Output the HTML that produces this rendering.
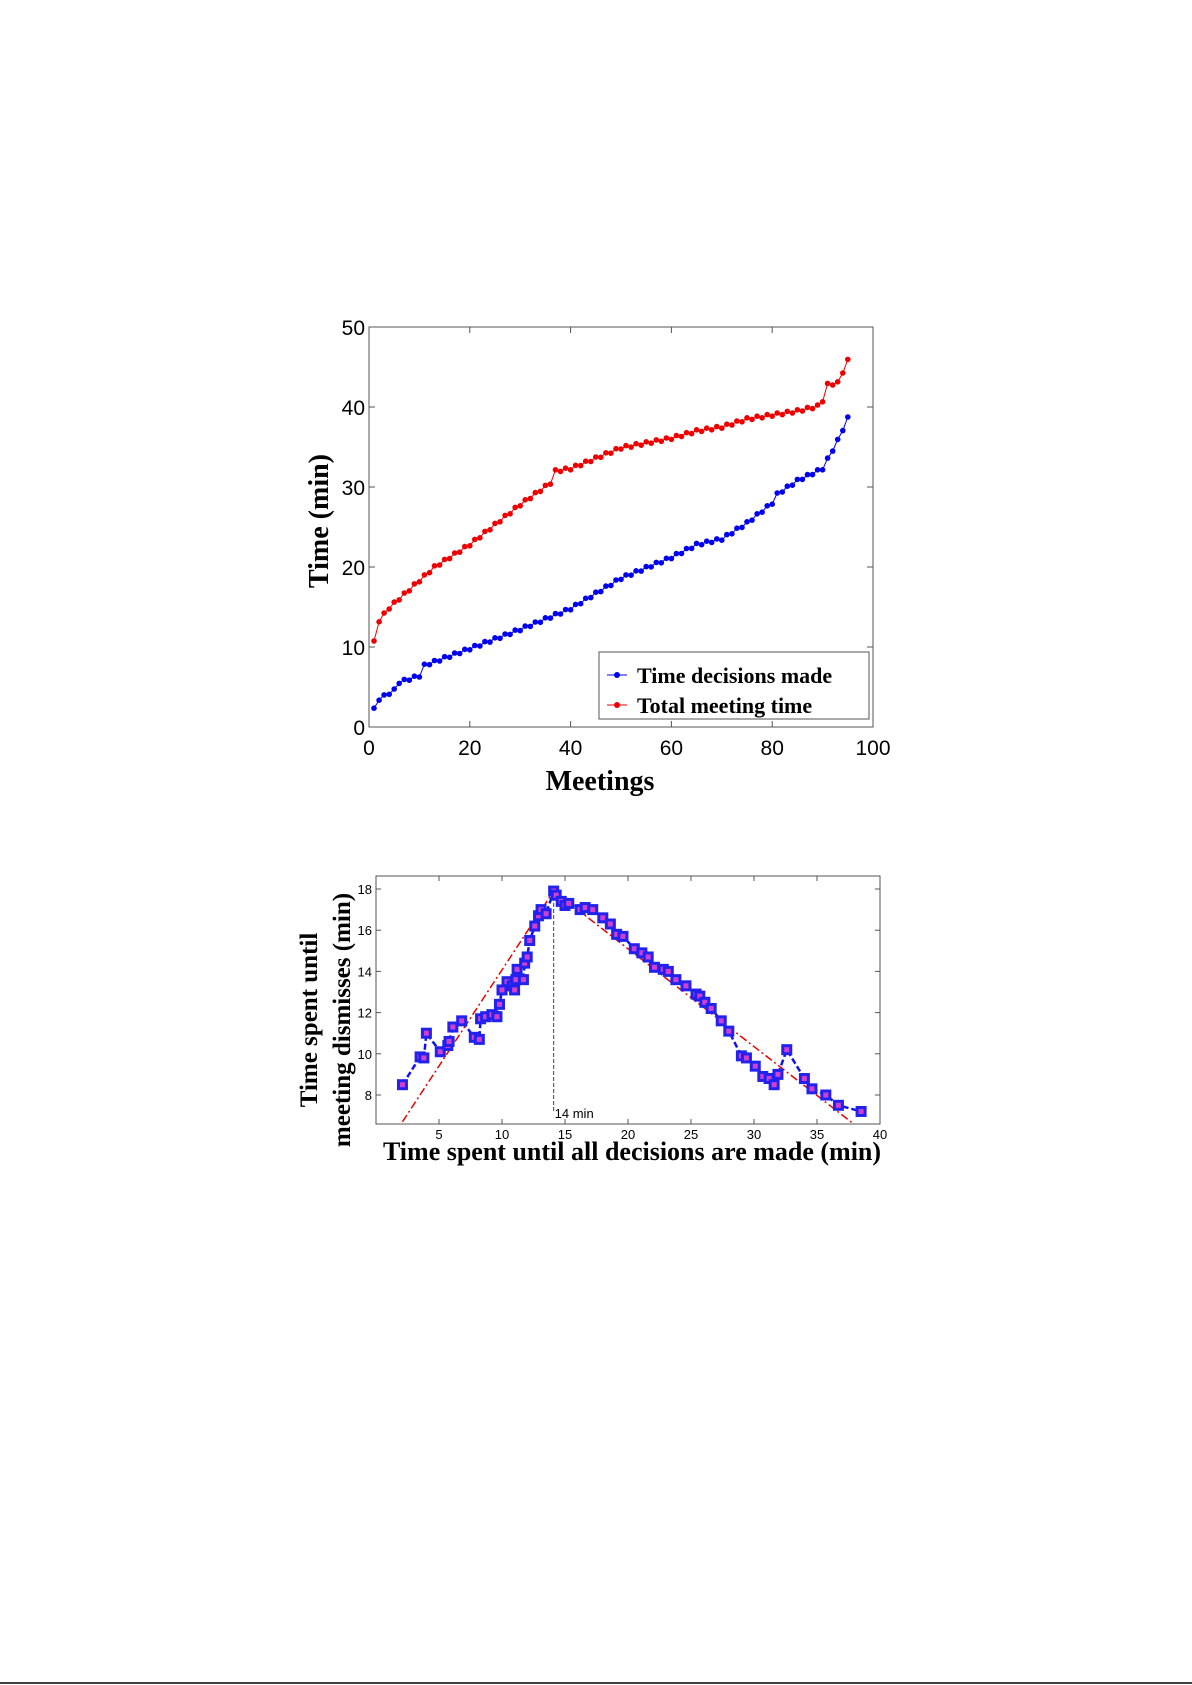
<!DOCTYPE html><html><head><style>body{margin:0;background:#fff}svg{display:block}</style></head><body>
<svg id="s" width="1192" height="1685" xmlns="http://www.w3.org/2000/svg" font-family="Liberation Sans, sans-serif">
<rect width="1192" height="1685" fill="#fff"/>
<g id="g1"></g><g id="g2"></g>
<line x1="0" y1="1683" x2="1192" y2="1683" stroke="#000" stroke-width="1.5"/>
</svg>
<script>
var NS="http://www.w3.org/2000/svg";
function el(p,t,a,txt){var e=document.createElementNS(NS,t);for(var k in a)e.setAttribute(k,a[k]);if(txt!=null)e.textContent=txt;p.appendChild(e);return e;}
function interp(kp,x){for(var i=0;i<kp.length-1;i++){if(x<=kp[i+1][0]){var a=kp[i],b=kp[i+1];return a[1]+(b[1]-a[1])*(x-a[0])/(b[0]-a[0]);}}return kp[kp.length-1][1];}
var g=document.getElementById('g1');
var L=369,R=873,T=327,B=727;
function X(v){return L+(R-L)*v/100}function Y(v){return B-(B-T)*v/50}
el(g,'rect',{x:L,y:T,width:R-L,height:B-T,fill:'none',stroke:'#555','stroke-width':1});
for(var i=0;i<=5;i++){var x=X(i*20);el(g,'line',{x1:x,y1:B,x2:x,y2:B-6,stroke:'#555'});el(g,'line',{x1:x,y1:T,x2:x,y2:T+6,stroke:'#555'});
el(g,'text',{x:x,y:B+28,'font-size':21,'text-anchor':'middle'},i*20);
var y=Y(i*10);el(g,'line',{x1:L,y1:y,x2:L+6,y2:y,stroke:'#555'});el(g,'line',{x1:R,y1:y,x2:R-6,y2:y,stroke:'#555'});
el(g,'text',{x:L-4,y:y+8,'font-size':21,'text-anchor':'end'},i*10);}
var blue=[[1,2.2],[2,3.5],[5,4.6],[6,5.6],[10,6.4],[11,7.7],[20,9.8],[30,12.2],[40,14.8],[50,18.6],[60,21.2],[65,22.8],[70,23.5],[75,25.5],[80,28],[81,29.1],[85,30.8],[90,32.3],[93,35.8],[95,38.6]];
var red=[[1,10.6],[2,13.3],[4,14.9],[10,18.3],[13,20],[20,22.8],[30,27.8],[36,30.5],[37,32],[40,32.3],[50,34.9],[60,36.1],[65,37],[70,37.5],[75,38.5],[80,39],[85,39.5],[89,40.1],[90,40.8],[91,42.8],[93,43],[95,45.8]];
[[blue,'#0000ee'],[red,'#ee0000']].forEach(function(s){var pts=[];for(var m=1;m<=95;m++){var v=interp(s[0],m)+((m%2)?0.15:-0.15);pts.push(X(m).toFixed(1)+','+Y(v).toFixed(1));}
el(g,'polyline',{points:pts.join(' '),fill:'none',stroke:s[1],'stroke-width':1});
pts.forEach(function(p){var q=p.split(',');el(g,'circle',{cx:q[0],cy:q[1],r:2.8,fill:s[1]});});});
el(g,'rect',{x:599,y:652,width:270,height:67,fill:'#fff',stroke:'#555'});
el(g,'line',{x1:607,y1:675,x2:627,y2:675,stroke:'#0000ee'});el(g,'circle',{cx:617,cy:675,r:3,fill:'#0000ee'});
el(g,'line',{x1:607,y1:705,x2:627,y2:705,stroke:'#ee0000'});el(g,'circle',{cx:617,cy:705,r:3,fill:'#ee0000'});
el(g,'text',{x:637,y:683,'font-size':22,'font-weight':'bold','font-family':'Liberation Serif, serif'},'Time decisions made');
el(g,'text',{x:637,y:713,'font-size':22,'font-weight':'bold','font-family':'Liberation Serif, serif'},'Total meeting time');
el(g,'text',{x:600,y:790,'font-size':28,'font-weight':'bold','font-family':'Liberation Serif, serif','text-anchor':'middle'},'Meetings');
el(g,'text',{x:0,y:0,'font-size':28,'font-weight':'bold','font-family':'Liberation Serif, serif','text-anchor':'middle',transform:'translate(328,521) rotate(-90)'},'Time (min)');
g=document.getElementById('g2');
var L2=376,R2=880,T2=876,B2=1124;
function X2(v){return L2+(R2-L2)*v/40}function Y2(v){return 889+(18-v)*20.6}
el(g,'rect',{x:L2,y:T2,width:R2-L2,height:B2-T2,fill:'none',stroke:'#555'});
for(var i=1;i<=8;i++){var x=X2(i*5);el(g,'line',{x1:x,y1:B2,x2:x,y2:B2-5,stroke:'#555'});el(g,'line',{x1:x,y1:T2,x2:x,y2:T2+5,stroke:'#555'});el(g,'text',{x:x,y:B2+15,'font-size':13,'text-anchor':'middle'},i*5);}
for(var v=8;v<=18;v+=2){var y=Y2(v);el(g,'line',{x1:L2,y1:y,x2:L2+5,y2:y,stroke:'#555'});el(g,'line',{x1:R2,y1:y,x2:R2-5,y2:y,stroke:'#555'});el(g,'text',{x:L2-4,y:y+5,'font-size':13,'text-anchor':'end'},v);}
el(g,'polyline',{points:[X2(2.1),Y2(6.7),X2(14.1),Y2(17.9),X2(37.9),Y2(6.6)].join(','),fill:'none',stroke:'#e00','stroke-width':1.5,'stroke-dasharray':'8,3,2,3'});
el(g,'line',{x1:X2(14.1),y1:Y2(17.9),x2:X2(14.1),y2:1112,stroke:'#33c','stroke-dasharray':'4,2'});
el(g,'text',{x:X2(14.1)+1,y:1118,'font-size':13},'14 min');
var d=[[2.1,8.5],[3.5,9.85],[3.8,9.8],[4,11],[5.1,10.1],[5.7,10.4],[5.8,10.6],[6.1,11.3],[6.8,11.6],[7.8,10.8],[8.2,10.7],[8.3,11.7],[8.7,11.8],[9.2,11.9],[9.6,11.8],[9.8,12.4],[10,13.1],[10.4,13.5],[10.8,13.3],[11,13.1],[11.1,13.6],[11.2,14.1],[11.7,13.6],[11.8,14.4],[12,14.7],[12.2,15.5],[12.6,16.2],[12.9,16.7],[13.1,17],[13.5,16.8],[14.1,17.9],[14.3,17.7],[14.7,17.4],[15,17.2],[15.3,17.3],[16.2,17],[16.6,17.1],[17.2,17],[18,16.6],[18.6,16.3],[19.1,15.8],[19.6,15.7],[20.5,15.1],[21.1,14.9],[21.6,14.7],[22.1,14.2],[22.8,14.1],[23.2,14],[23.8,13.6],[24.6,13.3],[25.4,12.9],[25.7,12.8],[26.1,12.5],[26.6,12.2],[27.4,11.6],[28,11.1],[29,9.9],[29.4,9.8],[30.1,9.4],[30.7,8.9],[31.2,8.8],[31.6,8.5],[31.9,9],[32.6,10.2],[34,8.8],[34.6,8.3],[35.7,8],[36.7,7.5],[38.5,7.2]];
el(g,'polyline',{points:d.map(function(p){return X2(p[0]).toFixed(1)+','+Y2(p[1]).toFixed(1)}).join(' '),fill:'none',stroke:'#11e','stroke-width':2.5,'stroke-dasharray':'6,3'});
d.forEach(function(p){el(g,'rect',{x:X2(p[0])-4,y:Y2(p[1])-4,width:8,height:8,fill:'#d040d0',stroke:'#22e','stroke-width':3});});
el(g,'text',{x:632,y:1160,'font-size':26,'font-weight':'bold','font-family':'Liberation Serif, serif','text-anchor':'middle'},'Time spent until  all decisions are made (min)');
el(g,'text',{x:0,y:0,'font-size':25,'font-weight':'bold','font-family':'Liberation Serif, serif','text-anchor':'middle',transform:'translate(317,1020) rotate(-90)'},'Time spent until');
el(g,'text',{x:0,y:0,'font-size':25,'font-weight':'bold','font-family':'Liberation Serif, serif','text-anchor':'middle',transform:'translate(350,1020) rotate(-90)'},'meeting dismisses (min)');
</script>
</body></html>
